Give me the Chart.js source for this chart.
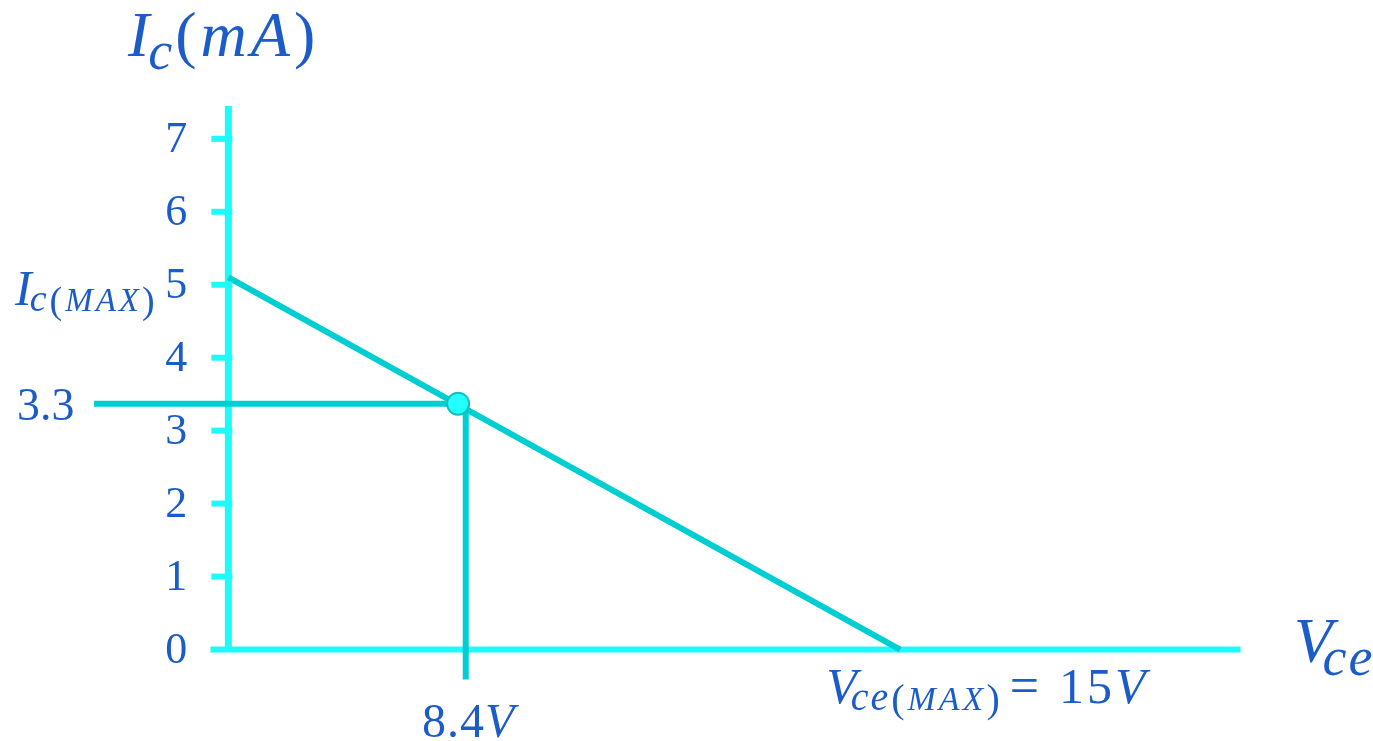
<!DOCTYPE html>
<html>
<head>
<meta charset="utf-8">
<script src="https://cdn.jsdelivr.net/npm/chart.js@4.4.1/dist/chart.umd.min.js"></script>
<style>
  body{margin:0;background:#fff;}
  #wrap{width:1373px;height:741px;}
</style>
</head>
<body>
<div id="wrap"><canvas id="loadLine" width="1373" height="741"></canvas></div>
<script>
  // values (the sketch is not to scale, so the Q point sits where it is drawn)
  var yTickValues = [0, 1, 2, 3, 4, 5, 6, 7];
  var loadLineVce = [0, 15];
  var loadLineIc = [5.1, 0];
  var qPointVce = 5.13;
  var qPointIc = 3.37;
  var qLabelIc = '3.3';
  var qLabelVce = '8.4';
  var vceMaxLabel = '15';

  var axisColor = 'rgb(30,250,250)';
  var lineColor = 'rgb(0,206,210)';
  var textColor = 'rgb(28,92,200)';
  var serif = '"Liberation Serif", "DejaVu Serif", serif';

  // draw a row of text pieces, each with its own font, baseline shift and letter spacing
  function drawRuns(ctx, x, y, runs){
    ctx.textAlign = 'left';
    ctx.textBaseline = 'alphabetic';
    runs.forEach(function(r){
      ctx.font = r.f;
      for (const ch of r.t){
        ctx.fillText(ch, x, y + (r.dy || 0));
        x += ctx.measureText(ch).width + (r.ls || 0);
      }
      x += (r.sp || 0);
    });
    return x;
  }

  const labelsPlugin = {
    id: 'labelsPlugin',
    afterDatasetsDraw(chart){
      const ctx = chart.ctx;
      const xs = chart.scales.x, ys = chart.scales.y;
      const x0 = xs.getPixelForValue(0);
      ctx.save();
      // y axis tick marks
      ctx.fillStyle = axisColor;
      yTickValues.forEach(function(v){
        if (v === 0) return;
        const py = ys.getPixelForValue(v);
        ctx.fillRect(x0 - 17, py - 3, 21, 6);
      });
      ctx.fillStyle = textColor;
      // y tick labels
      ctx.font = '44px ' + serif;
      ctx.textAlign = 'right';
      ctx.textBaseline = 'middle';
      yTickValues.forEach(function(v){
        ctx.fillText(String(v), x0 - 41, ys.getPixelForValue(v) + 2);
      });
      // Q point labels
      ctx.font = '46px ' + serif;
      ctx.textAlign = 'left';
      ctx.fillText(qLabelIc, 17, ys.getPixelForValue(qPointIc) + 4);
      const qx = xs.getPixelForValue(qPointVce);
      drawRuns(ctx, qx - 36, 737, [
        {t: qLabelVce, f: '48px ' + serif, ls: 1},
        {t: 'V', f: 'italic 48px ' + serif}
      ]);
      // axis titles
      drawRuns(ctx, 128, 56, [
        {t: 'I', f: 'italic 64px ' + serif, sp: -1},
        {t: 'c', f: 'italic 54px ' + serif, dy: 13, sp: 3},
        {t: '(', f: '64px ' + serif, sp: 4},
        {t: 'mA', f: 'italic 64px ' + serif, ls: 4},
        {t: ')', f: '64px ' + serif}
      ]);
      drawRuns(ctx, 1294, 662, [
        {t: 'V', f: 'italic 63px ' + serif, sp: -10},
        {t: 'ce', f: 'italic 54px ' + serif, dy: 13, ls: 2}
      ]);
      drawRuns(ctx, 15, 305, [
        {t: 'I', f: 'italic 50px ' + serif, sp: -2},
        {t: 'c', f: 'italic 38px ' + serif, dy: 6, sp: 3},
        {t: '(', f: '38px ' + serif, dy: 8, sp: 3},
        {t: 'MAX', f: 'italic 33px ' + serif, dy: 6, ls: 3},
        {t: ')', f: '38px ' + serif, dy: 8}
      ]);
      const xm = xs.getPixelForValue(loadLineVce[1]);
      drawRuns(ctx, xm - 74, 703, [
        {t: 'V', f: 'italic 50px ' + serif, sp: -6},
        {t: 'ce', f: 'italic 40px ' + serif, dy: 7, ls: 2, sp: 1},
        {t: '(', f: '40px ' + serif, dy: 9, sp: 3},
        {t: 'MAX', f: 'italic 34px ' + serif, dy: 7, ls: 3},
        {t: ')', f: '40px ' + serif, dy: 9, sp: 10},
        {t: '=', f: '52px ' + serif, sp: 20},
        {t: vceMaxLabel, f: '50px ' + serif, ls: 3},
        {t: 'V', f: 'italic 50px ' + serif}
      ]);
      ctx.restore();
    }
  };

  const loadLinePoints = loadLineVce.map(function(v, i){ return {x: v, y: loadLineIc[i]}; });

  const config = {
    type: 'scatter',
    data: {
      datasets: [
        {
          label: 'Q point',
          data: [{x: qPointVce, y: qPointIc}],
          pointRadius: 11,
          pointBackgroundColor: 'rgb(34,255,255)',
          pointBorderColor: 'rgb(20,190,190)',
          pointBorderWidth: 2,
          order: 0
        },
        {
          label: 'Ic guide',
          data: [{x: -3.1, y: qPointIc}, {x: qPointVce, y: qPointIc}],
          showLine: true, pointRadius: 0, borderWidth: 6,
          borderColor: lineColor, order: 1
        },
        {
          label: 'Vce guide',
          data: [{x: qPointVce + 0.17, y: qPointIc}, {x: qPointVce + 0.17, y: -0.41}],
          showLine: true, pointRadius: 0, borderWidth: 6,
          borderColor: lineColor, order: 1
        },
        {
          label: 'Load line',
          data: loadLinePoints,
          showLine: true, pointRadius: 0, borderWidth: 6,
          borderColor: lineColor, order: 2
        },
        {
          label: 'Ic axis',
          data: [{x: 0, y: 0}, {x: 0, y: 7.45}],
          showLine: true, pointRadius: 0, borderWidth: 7,
          borderColor: axisColor, borderCapStyle: 'butt', order: 3
        },
        {
          label: 'Vce axis',
          data: [{x: -0.4, y: 0}, {x: 22.6, y: 0}],
          showLine: true, pointRadius: 0, borderWidth: 6,
          borderColor: axisColor, order: 3
        }
      ]
    },
    options: {
      responsive: false,
      animation: false,
      layout: {padding: {left: 94, right: 128, top: 106, bottom: 55}},
      plugins: {legend: {display: false}, tooltip: {enabled: false}},
      scales: {
        x: {type: 'linear', min: -3, max: 22.7, display: false},
        y: {type: 'linear', min: -0.5, max: 7.45, display: false}
      }
    },
    plugins: [labelsPlugin]
  };

  const chart = new Chart(document.getElementById('loadLine'), config);
</script>
</body>
</html>
